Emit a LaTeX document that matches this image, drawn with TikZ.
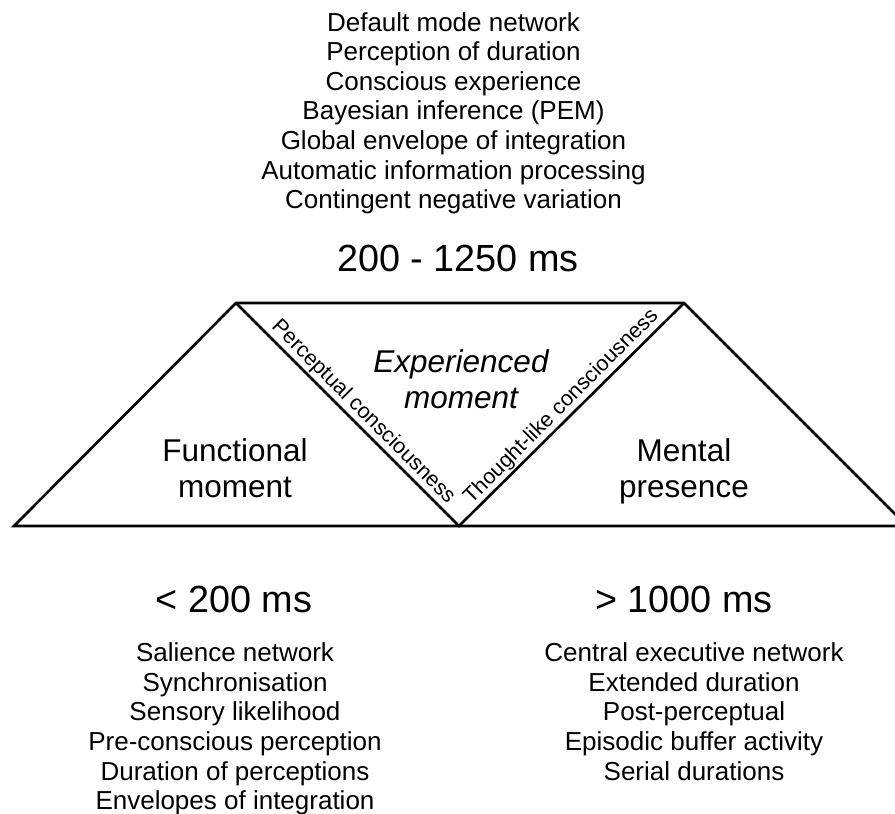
\documentclass[tikz,border=0pt]{standalone}
\usepackage{fontspec}
\setmainfont{Liberation Sans}
\usepackage{tikz}
\usetikzlibrary{calc}

\begin{document}
\begin{tikzpicture}[x=1pt, y=-1pt,
    listtext/.style={font=\fontsize{26}{30}\selectfont, inner sep=0pt, anchor=base},
    rangetext/.style={font=\fontsize{37.8}{40}\selectfont, inner sep=0pt, anchor=base},
    zonetext/.style={font=\fontsize{31.5}{36}\selectfont, inner sep=0pt, anchor=base},
    diagtext/.style={font=\fontsize{21.5}{24}\selectfont, inner sep=2.5pt, anchor=south}]
  \useasboundingbox (0,0) rectangle (895,814);
  \clip (0,0) rectangle (895,814);
  % trapezoid and the inner V
  \coordinate (bl) at (14,526);
  \coordinate (tl) at (236,303);
  \coordinate (tr) at (684,303);
  \coordinate (br) at (907,526);
  \coordinate (vx) at (459,526);
  \draw[line width=2.6pt, line join=miter] (bl) -- (tl) -- (tr) -- (br) -- cycle;
  \draw[line width=2.6pt, line join=miter] (tl) -- (vx) -- (tr);
  % labels along the V
  \node[diagtext, rotate=-45] (percep) at ($(tl)!0.53!(vx)$) {Perceptual consciousness};
  \node[diagtext, rotate=45] (thought) at ($(vx)!0.495!(tr)$) {Thought-like consciousness};
  % zone names
  \node[zonetext] (func1) at (235,461) {Functional};
  \node[zonetext] (func2) at (235,497) {moment};
  \node[zonetext, font=\fontsize{31.5}{36}\selectfont\itshape] (exp1) at (461,372) {Experienced};
  \node[zonetext, font=\fontsize{31.5}{36}\selectfont\itshape] (exp2) at (461,408) {moment};
  \node[zonetext] (ment1) at (684,461) {Mental};
  \node[zonetext] (ment2) at (684,497) {presence};
  % time ranges
  \node[rangetext] (midrange) at (458,271) {200 - 1250 ms};
  \node[rangetext] (lowrange) at (234,612) {< 200 ms};
  \node[rangetext] (highrange) at (684,612) {> 1000 ms};
  % lists
  \foreach \txt [count=\i] in {Default mode network, Perception of duration,
      Conscious experience, Bayesian inference (PEM), Global envelope of integration,
      Automatic information processing, Contingent negative variation}
    \node[listtext] (top\i) at (453.5, 1.4+29.6*\i) {\txt};
  \foreach \txt [count=\i] in {Salience network, Synchronisation, Sensory likelihood,
      Pre-conscious perception, Duration of perceptions, Envelopes of integration}
    \node[listtext] (left\i) at (235, 632.1+29.6*\i) {\txt};
  \foreach \txt [count=\i] in {Central executive network, Extended duration,
      Post-perceptual, Episodic buffer activity, Serial durations}
    \node[listtext] (right\i) at (694, 632.1+29.6*\i) {\txt};
\end{tikzpicture}
\end{document}
